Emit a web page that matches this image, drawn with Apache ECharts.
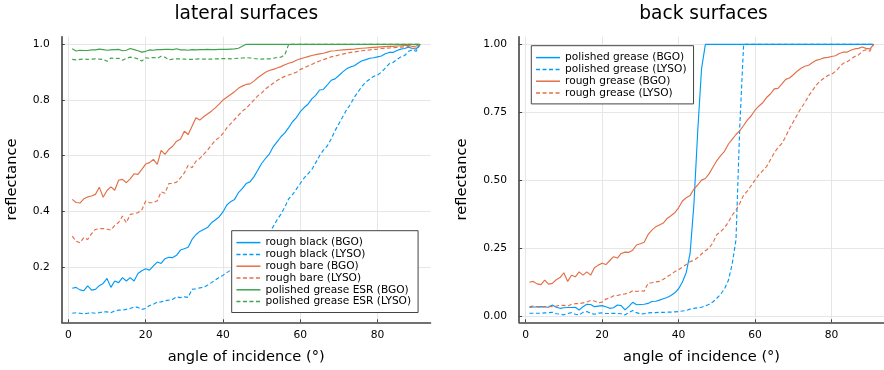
<!DOCTYPE html>
<html>
<head>
<meta charset="utf-8">
<script src="https://cdn.jsdelivr.net/npm/echarts@6/dist/echarts.min.js"></script>
<style>html,body{margin:0;padding:0;background:#fff}#c{width:884px;height:370px}</style>
</head>
<body>
<div id="c"></div>
<script>
const angles = [1,2,3,4,5,6,7,8,9,10,11,12,13,14,15,16,17,18,19,20,21,22,23,24,25,26,27,28,29,30,31,32,33,34,35,36,37,38,39,40,41,42,43,44,45,46,47,48,49,50,51,52,53,54,55,56,57,58,59,60,61,62,63,64,65,66,67,68,69,70,71,72,73,74,75,76,77,78,79,80,81,82,83,84,85,86,87,88,89,90,91];

// lateral surfaces
const roughBlackBGO = [0.124,0.127,0.118,0.115,0.132,0.117,0.12,0.133,0.141,0.159,0.127,0.15,0.144,0.162,0.15,0.162,0.15,0.177,0.187,0.194,0.189,0.204,0.218,0.213,0.23,0.235,0.234,0.242,0.261,0.266,0.271,0.299,0.316,0.328,0.335,0.342,0.359,0.369,0.38,0.398,0.423,0.435,0.443,0.467,0.482,0.5,0.506,0.524,0.548,0.572,0.59,0.606,0.632,0.65,0.668,0.682,0.701,0.722,0.737,0.758,0.773,0.785,0.804,0.817,0.836,0.838,0.854,0.871,0.876,0.888,0.901,0.912,0.919,0.923,0.933,0.941,0.945,0.95,0.952,0.955,0.958,0.966,0.971,0.971,0.978,0.983,0.985,0.99,0.985,0.983,1.0];
const roughBlackLYSO = [0.034,0.036,0.034,0.032,0.034,0.036,0.034,0.036,0.039,0.039,0.036,0.043,0.045,0.045,0.048,0.051,0.057,0.055,0.048,0.051,0.062,0.066,0.074,0.075,0.079,0.081,0.084,0.093,0.09,0.093,0.091,0.12,0.122,0.125,0.127,0.135,0.144,0.153,0.163,0.17,0.18,0.189,0.2,0.205,0.215,0.228,0.24,0.25,0.27,0.3,0.31,0.325,0.345,0.37,0.39,0.415,0.445,0.46,0.48,0.5,0.52,0.535,0.55,0.575,0.6,0.62,0.635,0.66,0.69,0.715,0.74,0.765,0.785,0.81,0.83,0.85,0.865,0.875,0.885,0.89,0.9,0.915,0.93,0.935,0.945,0.955,0.96,0.975,0.98,0.975,1.0];
const roughBareBGO = [0.443,0.432,0.43,0.445,0.452,0.455,0.461,0.487,0.451,0.475,0.488,0.476,0.512,0.515,0.503,0.517,0.535,0.533,0.551,0.57,0.575,0.587,0.569,0.619,0.605,0.623,0.634,0.652,0.659,0.688,0.676,0.706,0.736,0.728,0.74,0.75,0.76,0.772,0.785,0.8,0.81,0.82,0.83,0.842,0.85,0.856,0.858,0.868,0.88,0.89,0.9,0.906,0.91,0.915,0.92,0.927,0.932,0.936,0.943,0.948,0.952,0.956,0.96,0.963,0.966,0.968,0.972,0.976,0.977,0.979,0.98,0.981,0.982,0.983,0.985,0.986,0.987,0.988,0.989,0.99,0.991,0.992,0.993,0.993,0.994,0.995,0.996,0.997,0.992,0.994,1.0];
const roughBareLYSO = [0.311,0.293,0.287,0.306,0.299,0.32,0.335,0.338,0.338,0.336,0.333,0.35,0.36,0.383,0.359,0.389,0.392,0.395,0.405,0.437,0.431,0.431,0.438,0.47,0.465,0.5,0.5,0.505,0.52,0.538,0.566,0.557,0.58,0.59,0.605,0.62,0.638,0.655,0.665,0.68,0.7,0.715,0.73,0.745,0.76,0.77,0.785,0.8,0.815,0.825,0.84,0.85,0.86,0.87,0.878,0.885,0.89,0.895,0.9,0.91,0.915,0.922,0.928,0.935,0.94,0.945,0.95,0.955,0.958,0.962,0.965,0.968,0.971,0.973,0.975,0.977,0.979,0.98,0.982,0.983,0.985,0.986,0.987,0.988,0.989,0.99,0.991,0.992,0.985,0.988,1.0];
const polishedEsrBGO = [0.984,0.976,0.979,0.978,0.978,0.98,0.98,0.983,0.981,0.979,0.98,0.981,0.982,0.977,0.979,0.985,0.981,0.977,0.972,0.975,0.98,0.979,0.981,0.981,0.982,0.982,0.981,0.984,0.98,0.98,0.979,0.981,0.98,0.981,0.981,0.982,0.981,0.981,0.982,0.982,0.982,0.983,0.984,0.986,0.993,1.0,1.0,1.0,1.0,1.0,1.0,1.0,1.0,1.0,1.0,1.0,1.0,1.0,1.0,1.0,1.0,1.0,1.0,1.0,1.0,1.0,1.0,1.0,1.0,1.0,1.0,1.0,1.0,1.0,1.0,1.0,1.0,1.0,1.0,1.0,1.0,1.0,1.0,1.0,1.0,1.0,1.0,1.0,1.0,1.0,1.0];
const polishedEsrLYSO = [0.946,0.944,0.946,0.947,0.946,0.947,0.948,0.947,0.946,0.939,0.951,0.949,0.95,0.943,0.95,0.954,0.952,0.948,0.94,0.952,0.95,0.953,0.95,0.957,0.954,0.944,0.947,0.948,0.948,0.947,0.946,0.946,0.947,0.948,0.947,0.947,0.947,0.948,0.948,0.949,0.949,0.948,0.949,0.95,0.951,0.952,0.951,0.949,0.948,0.947,0.948,0.948,0.95,0.953,0.954,0.962,1.0,1.0,1.0,1.0,1.0,1.0,1.0,1.0,1.0,1.0,1.0,1.0,1.0,1.0,1.0,1.0,1.0,1.0,1.0,1.0,1.0,1.0,1.0,1.0,1.0,1.0,1.0,1.0,1.0,1.0,1.0,1.0,1.0,1.0,1.0];

// back surfaces
const polishedGreaseBGO = [0.031,0.033,0.033,0.034,0.033,0.032,0.04,0.032,0.028,0.03,0.031,0.031,0.032,0.022,0.034,0.043,0.042,0.034,0.036,0.038,0.034,0.028,0.03,0.04,0.038,0.022,0.035,0.05,0.041,0.042,0.043,0.046,0.053,0.054,0.058,0.063,0.068,0.075,0.085,0.1,0.125,0.16,0.23,0.41,0.68,0.91,1.0,1.0,1.0,1.0,1.0,1.0,1.0,1.0,1.0,1.0,1.0,1.0,1.0,1.0,1.0,1.0,1.0,1.0,1.0,1.0,1.0,1.0,1.0,1.0,1.0,1.0,1.0,1.0,1.0,1.0,1.0,1.0,1.0,1.0,1.0,1.0,1.0,1.0,1.0,1.0,1.0,1.0,1.0,1.0,1.0];
const polishedGreaseLYSO = [0.01,0.01,0.01,0.01,0.011,0.012,0.013,0.008,0.007,0.004,0.009,0.012,0.006,0.004,0.013,0.016,0.01,0.006,0.01,0.011,0.009,0.009,0.01,0.009,0.008,0.004,0.012,0.02,0.012,0.007,0.008,0.011,0.012,0.012,0.013,0.013,0.014,0.014,0.015,0.016,0.018,0.02,0.025,0.028,0.03,0.032,0.037,0.043,0.052,0.065,0.08,0.1,0.13,0.19,0.28,0.7,1.0,1.0,1.0,1.0,1.0,1.0,1.0,1.0,1.0,1.0,1.0,1.0,1.0,1.0,1.0,1.0,1.0,1.0,1.0,1.0,1.0,1.0,1.0,1.0,1.0,1.0,1.0,1.0,1.0,1.0,1.0,1.0,1.0,1.0,1.0];
const roughGreaseBGO = roughBlackBGO;
const roughGreaseLYSO = roughBlackLYSO;

const xTicks = [0, 20, 40, 60, 80];
const leftYTicks = [0.2, 0.4, 0.6, 0.8, 1.0];
const rightYTicks = [0, 0.25, 0.5, 0.75, 1.0];

const BLUE = '#009AFA', ORANGE = '#E36F47', GREEN = '#3EA44E';
const FONT = 'DejaVu Sans';
const DASH = [4, 2.5];

function pairs(ys) { return angles.map((a, i) => [a, ys[i]]); }

function xAxisDef(gi) {
  return {
    type: 'value', gridIndex: gi, min: -1.7, max: 93.7,
    name: 'angle of incidence (°)', nameLocation: 'middle', nameGap: 27.5,
    nameTextStyle: { fontFamily: FONT, fontSize: 14.6, color: '#000' },
    axisLine: { show: true, onZero: false, lineStyle: { color: '#444', width: 1.6 } },
    axisTick: { show: true, inside: true, length: 3, customValues: xTicks, lineStyle: { color: '#444', width: 1 } },
    axisLabel: { customValues: xTicks, margin: 7, fontFamily: FONT, fontSize: 10.7, color: '#000' },
    splitLine: { show: true, lineStyle: { color: '#e6e6e6', width: 1 } }
  };
}
function yAxisDef(gi, min, max, ticks, digits, gap) {
  return {
    type: 'value', gridIndex: gi, min: min, max: max,
    name: 'reflectance', nameLocation: 'middle', nameGap: gap,
    nameTextStyle: { fontFamily: FONT, fontSize: 14.6, color: '#000' },
    axisLine: { show: true, onZero: false, lineStyle: { color: '#444', width: 1.6 } },
    axisTick: { show: true, inside: true, length: 3, customValues: ticks, lineStyle: { color: '#444', width: 1 } },
    axisLabel: { customValues: ticks, margin: 12, fontFamily: FONT, fontSize: 10.7, color: '#000',
      formatter: v => Number(v).toFixed(digits) },
    splitLine: { show: true, lineStyle: { color: '#e6e6e6', width: 1 } }
  };
}
function line(name, data, color, dashed, xi, yi) {
  return {
    type: 'line', name: name, xAxisIndex: xi, yAxisIndex: yi, data: pairs(data),
    symbol: 'none', showSymbol: false, silent: true,
    lineStyle: { color: color, width: 1.15, type: dashed ? DASH : 'solid' },
    itemStyle: { color: color }
  };
}
const legendBase = {
  orient: 'vertical', selectedMode: false, itemWidth: 24, itemHeight: 11.8, itemGap: 0,
  backgroundColor: '#fff', borderColor: '#444', borderWidth: 1, borderRadius: 0,
  itemStyle: { opacity: 0 },
  lineStyle: { width: 1.5 },
  textStyle: { fontFamily: FONT, fontSize: 10.6, color: '#000', lineHeight: 11.8 }
};

const chart = echarts.init(document.getElementById('c'), null, { renderer: 'canvas' });
chart.setOption({
  animation: false,
  backgroundColor: '#fff',
  title: [
    { text: 'lateral surfaces', left: 246.3, textAlign: 'center', top: 3.5, padding: 0,
      textStyle: { fontFamily: FONT, fontSize: 18.6, fontWeight: 'normal', color: '#000', lineHeight: 22 } },
    { text: 'back surfaces', left: 703.5, textAlign: 'center', top: 3.5, padding: 0,
      textStyle: { fontFamily: FONT, fontSize: 18.6, fontWeight: 'normal', color: '#000', lineHeight: 22 } }
  ],
  grid: [
    { left: 61.8, right: 453.5, top: 36.7, bottom: 47.7, containLabel: false },
    { left: 519.1, right: -4, top: 36.7, bottom: 47.7, containLabel: false }
  ],
  xAxis: [xAxisDef(0), xAxisDef(1)],
  yAxis: [
    yAxisDef(0, 0.0015, 1.0275, leftYTicks, 1, 42),
    yAxisDef(1, -0.0235, 1.028, rightYTicks, 2, 49)
  ],
  legend: [
    Object.assign({}, legendBase, { left: 231.7, top: 230.7, padding: [6, 7, 5, 4],
      data: ['rough black (BGO)', 'rough black (LYSO)', 'rough bare (BGO)', 'rough bare (LYSO)', 'polished grease ESR (BGO)', 'polished grease ESR (LYSO)'] }),
    Object.assign({}, legendBase, { left: 531.3, top: 45.7, padding: [6, 7, 5, 4],
      data: ['polished grease (BGO)', 'polished grease (LYSO)', 'rough grease (BGO)', 'rough grease (LYSO)'] })
  ],
  series: [
    line('rough black (BGO)', roughBlackBGO, BLUE, false, 0, 0),
    line('rough black (LYSO)', roughBlackLYSO, BLUE, true, 0, 0),
    line('rough bare (BGO)', roughBareBGO, ORANGE, false, 0, 0),
    line('rough bare (LYSO)', roughBareLYSO, ORANGE, true, 0, 0),
    line('polished grease ESR (BGO)', polishedEsrBGO, GREEN, false, 0, 0),
    line('polished grease ESR (LYSO)', polishedEsrLYSO, GREEN, true, 0, 0),
    line('polished grease (BGO)', polishedGreaseBGO, BLUE, false, 1, 1),
    line('polished grease (LYSO)', polishedGreaseLYSO, BLUE, true, 1, 1),
    line('rough grease (BGO)', roughGreaseBGO, ORANGE, false, 1, 1),
    line('rough grease (LYSO)', roughGreaseLYSO, ORANGE, true, 1, 1)
  ]
});
</script>
</body>
</html>
